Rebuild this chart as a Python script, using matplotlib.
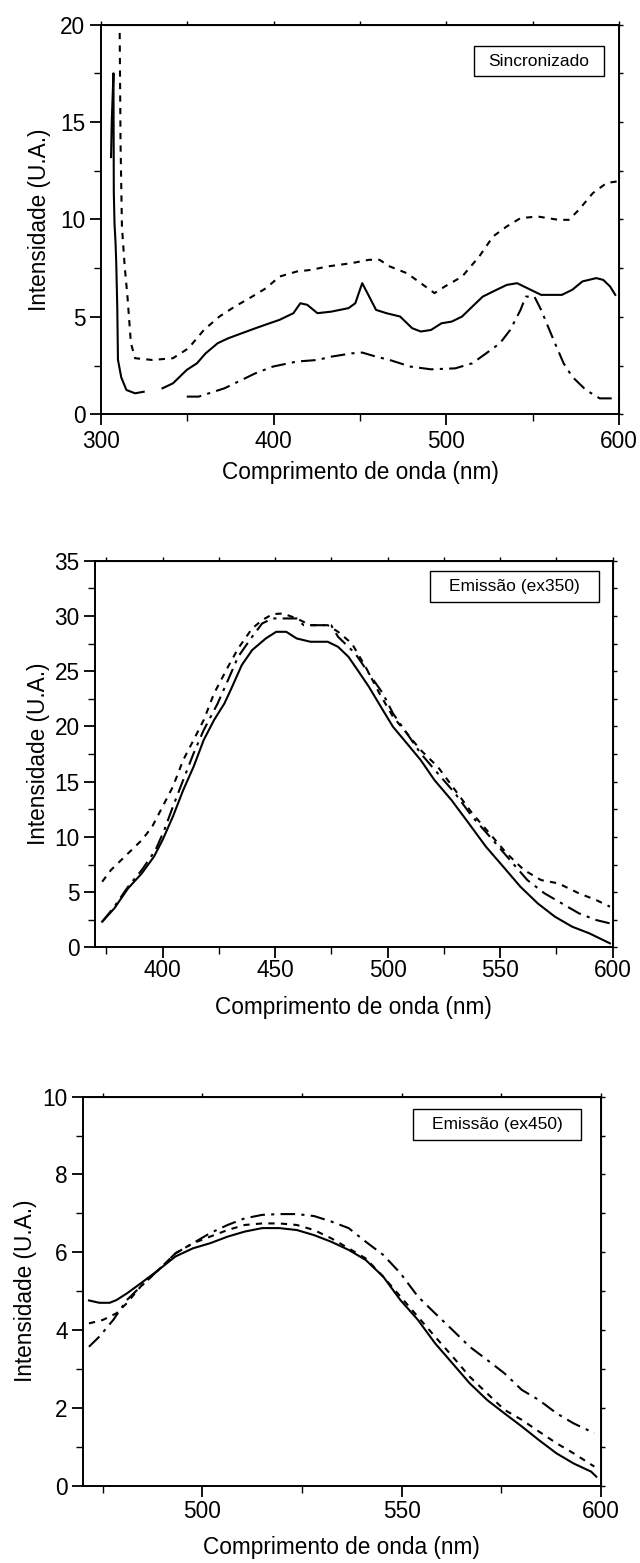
import numpy as np
import matplotlib
matplotlib.use("Agg")
import matplotlib.pyplot as plt
from matplotlib.ticker import MultipleLocator, NullFormatter
from matplotlib.patches import Rectangle

plt.rcParams['font.family'] = ['Liberation Sans', 'DejaVu Sans']

# --- Sincronizado (top panel) ---
sync_solid_a_x = [306.0, 306.4, 307.4, 307.6, 308.0, 308.6, 309.0, 309.6, 310.0, 311.9, 314.9, 319.9, 324.9]
sync_solid_a_y = [13.2, 15.0, 17.5, 11.4, 9.8, 8.8, 7.8, 5.5, 2.8, 1.9, 1.25, 1.08, 1.16]
sync_solid_b_x = [335.8, 341.8, 349.8, 355.7, 360.7, 367.7, 373.7, 381.6, 389.6, 397.6, 403.5, 411.5,
                  415.5, 419.5, 425.4, 433.4, 443.4, 447.3, 451.3, 454.3, 459.3, 465.3, 473.2, 480.2,
                  485.2, 491.1, 497.1, 503.1, 509.1, 515.0, 521.0, 529.0, 534.9, 540.9, 546.9, 554.8,
                  566.8, 572.8, 578.7, 586.7, 590.7, 594.7, 597.7]
sync_solid_b_y = [1.34, 1.59, 2.28, 2.62, 3.13, 3.65, 3.90, 4.16, 4.42, 4.67, 4.85, 5.19,
                  5.70, 5.62, 5.19, 5.27, 5.45, 5.70, 6.73, 6.22, 5.36, 5.19, 5.02, 4.42,
                  4.25, 4.33, 4.67, 4.76, 5.02, 5.53, 6.04, 6.39, 6.64, 6.73, 6.47, 6.13,
                  6.13, 6.39, 6.82, 6.99, 6.90, 6.56, 6.13]
sync_dash_x = [311.0, 311.5, 312.3, 313.9, 315.5, 317.5, 319.9, 329.9, 341.8, 350.8, 359.7, 368.7,
               377.6, 387.6, 395.6, 403.5, 413.5, 421.5, 431.4, 445.3, 455.3, 461.3, 467.2, 477.2,
               485.2, 493.1, 499.1, 509.1, 519.0, 527.0, 534.9, 542.9, 552.9, 564.8, 570.8, 576.7,
               584.7, 592.7, 598.7]
sync_dash_y = [19.57, 13.92, 9.64, 7.59, 6.04, 3.65, 2.88, 2.79, 2.88, 3.39, 4.33, 5.02,
               5.53, 6.04, 6.47, 7.07, 7.33, 7.41, 7.59, 7.76, 7.93, 7.93, 7.59, 7.24,
               6.73, 6.22, 6.56, 7.07, 8.10, 9.13, 9.64, 10.07, 10.15, 9.98, 9.98, 10.50,
               11.35, 11.87, 11.95]
sync_dd_x = [349.8, 356.7, 371.7, 379.6, 389.6, 399.6, 413.5, 425.4, 433.4, 445.3, 451.3, 459.3,
             467.2, 479.2, 491.1, 505.1, 515.0, 523.0, 531.0, 536.9, 542.9, 545.9, 550.9, 554.8,
             558.8, 562.8, 567.8, 572.8, 580.7, 588.7, 599.6]
sync_dd_y = [0.91, 0.91, 1.34, 1.68, 2.11, 2.45, 2.71, 2.79, 2.96, 3.13, 3.17, 2.96,
             2.79, 2.45, 2.31, 2.36, 2.62, 3.13, 3.65, 4.33, 5.36, 6.04, 6.04, 5.36,
             4.50, 3.65, 2.62, 1.93, 1.25, 0.82, 0.82]

# --- Emissao ex350 (middle panel) ---
ex350_solid_x = [373.2, 378.6, 384.7, 390.8, 396.2, 400.0, 404.6, 409.2, 413.8, 418.3, 422.9, 427.5,
                 430.6, 435.2, 439.8, 445.9, 450.5, 455.0, 459.6, 465.7, 473.4, 478.0, 482.6, 487.2,
                 491.7, 497.9, 502.4, 508.6, 514.7, 520.8, 528.4, 536.1, 543.7, 551.4, 559.0, 566.7,
                 574.3, 582.0, 589.6, 598.8]
ex350_solid_y = [2.32, 3.53, 5.34, 6.70, 8.21, 9.71, 11.83, 14.24, 16.35, 18.77, 20.58, 22.08,
                 23.44, 25.55, 26.91, 27.97, 28.57, 28.57, 27.97, 27.67, 27.67, 27.21, 26.31, 24.95,
                 23.59, 21.48, 19.97, 18.46, 16.96, 15.15, 13.33, 11.22, 9.11, 7.30, 5.49, 3.98,
                 2.78, 1.87, 1.27, 0.36]
ex350_dash_x = [373.2, 377.1, 383.2, 390.8, 395.4, 400.0, 404.6, 409.2, 413.8, 418.3, 422.9, 429.1,
                433.6, 439.8, 444.3, 448.9, 453.5, 459.6, 465.7, 473.4, 478.0, 484.1, 490.2, 496.4,
                502.4, 508.6, 514.7, 522.3, 530.0, 537.6, 545.3, 552.9, 560.6, 568.2, 575.9, 585.0,
                592.7, 598.8]
ex350_dash_y = [5.94, 7.00, 8.21, 9.71, 10.92, 12.73, 14.54, 16.96, 18.77, 20.58, 22.99, 25.40,
                27.06, 28.87, 29.63, 30.17, 30.23, 29.78, 29.17, 29.17, 28.57, 27.52, 25.40, 22.99,
                20.88, 19.37, 17.86, 16.35, 14.24, 12.13, 10.32, 8.51, 7.00, 6.09, 5.79, 4.89,
                4.28, 3.68]
ex350_dd_x = [373.2, 378.6, 384.7, 390.8, 396.9, 400.8, 404.6, 409.2, 413.8, 418.3, 424.5, 429.1,
              433.6, 439.8, 444.3, 448.9, 455.0, 459.6, 462.7, 468.8, 474.9, 478.0, 485.6, 491.7,
              497.9, 502.4, 508.6, 514.7, 522.3, 530.0, 537.6, 546.8, 554.4, 562.1, 569.7, 577.4,
              585.0, 592.7, 598.8]
ex350_dd_y = [2.32, 3.68, 5.49, 7.00, 8.81, 10.62, 12.73, 15.15, 17.56, 19.67, 22.08, 24.20,
              26.31, 28.12, 29.33, 29.78, 29.78, 29.78, 29.17, 29.17, 29.17, 28.12, 26.61, 24.80,
              22.99, 21.18, 19.37, 17.56, 15.75, 13.94, 11.83, 9.71, 7.90, 6.09, 4.89, 3.98,
              3.08, 2.47, 2.17]

# --- Emissao ex450 (bottom panel) ---
ex450_x = [471.5, 474.1, 476.7, 478.4, 481.0, 484.5, 488.9, 493.2, 497.6, 501.9, 506.3, 510.6,
           515.0, 519.3, 523.7, 528.0, 532.3, 536.7, 541.0, 545.4, 549.7, 554.1, 558.4, 562.8,
           567.1, 571.5, 575.8, 580.2, 584.5, 588.9, 593.2, 597.6, 598.9]
ex450_solid_y = [4.76, 4.70, 4.70, 4.77, 4.94, 5.20, 5.54, 5.89, 6.10, 6.23, 6.40, 6.53,
                 6.62, 6.62, 6.57, 6.44, 6.27, 6.06, 5.80, 5.37, 4.77, 4.26, 3.66, 3.14,
                 2.63, 2.20, 1.86, 1.52, 1.17, 0.83, 0.57, 0.36, 0.23]
ex450_dash_x = [471.5, 475.0, 478.4, 481.0, 484.5, 488.9, 493.2, 497.6, 501.9, 506.3, 510.6, 515.0,
                519.3, 523.7, 528.0, 532.3, 536.7, 541.0, 545.4, 549.7, 554.1, 558.4, 562.8, 567.1,
                571.5, 575.8, 580.2, 584.5, 588.9, 593.2, 598.4]
ex450_dash_y = [4.17, 4.26, 4.43, 4.69, 5.12, 5.54, 5.97, 6.23, 6.40, 6.57, 6.70, 6.74,
                6.74, 6.70, 6.57, 6.36, 6.10, 5.84, 5.37, 4.86, 4.34, 3.83, 3.32, 2.80,
                2.37, 1.95, 1.69, 1.39, 1.09, 0.83, 0.49]
ex450_dd_x = [471.5, 474.1, 477.6, 481.0, 484.5, 488.9, 493.2, 497.6, 501.9, 506.3, 510.6, 515.0,
              519.3, 523.7, 528.0, 532.3, 536.7, 541.0, 545.4, 549.7, 554.1, 558.4, 562.8, 567.1,
              571.5, 575.8, 580.2, 584.5, 588.9, 593.2, 598.4]
ex450_dd_y = [3.57, 3.83, 4.26, 4.77, 5.12, 5.54, 5.97, 6.23, 6.49, 6.70, 6.87, 6.96,
              6.98, 6.98, 6.93, 6.79, 6.62, 6.27, 5.93, 5.46, 4.86, 4.43, 4.00, 3.57,
              3.23, 2.89, 2.46, 2.20, 1.86, 1.60, 1.35]

FS = 16.3
LW = 1.5
DASH = (0, (3, 3))
DASHDOT = (0, (7, 3, 1.5, 3))

fig = plt.figure(figsize=(6.4, 15.63), dpi=100)


def setup(ax, xlim, ylim, xmaj, xmin, ymaj, ymin, label, box, ylab_x, xpad, xlabpad):
    ax.set_xlim(*xlim)
    ax.set_ylim(*ylim)
    ax.xaxis.set_major_locator(MultipleLocator(xmaj))
    ax.xaxis.set_minor_locator(MultipleLocator(xmin))
    ax.yaxis.set_major_locator(MultipleLocator(ymaj))
    ax.yaxis.set_minor_locator(MultipleLocator(ymin))
    ax.tick_params(which='major', direction='out', length=8, width=1.3, labelsize=FS, pad=3)
    ax.tick_params(axis='x', which='major', pad=xpad)
    ax.tick_params(which='minor', direction='out', length=5, width=1.0)
    for s in ax.spines.values():
        s.set_linewidth(1.4)
    # short outward ticks on top and right
    top = ax.secondary_xaxis('top')
    top.xaxis.set_major_locator(MultipleLocator(xmin))
    top.xaxis.set_major_formatter(NullFormatter())
    top.tick_params(direction='out', length=3, width=1.0)
    right = ax.secondary_yaxis('right')
    right.yaxis.set_major_locator(MultipleLocator(ymin))
    right.yaxis.set_major_formatter(NullFormatter())
    right.tick_params(direction='out', length=3, width=1.0)
    ax.set_xlabel('Comprimento de onda (nm)', fontsize=FS, labelpad=xlabpad)
    ax.set_ylabel('Intensidade (U.A.)', fontsize=FS)
    ax.yaxis.set_label_coords(ylab_x, 0.5)
    x0, y0, x1, y1 = box
    ax.add_patch(Rectangle((x0, y0), x1 - x0, y1 - y0, transform=ax.transAxes,
                           fc='white', ec='black', lw=1.0, zorder=5))
    ax.text((x0 + x1) / 2, (y0 + y1) / 2, label, transform=ax.transAxes,
            ha='center', va='center', fontsize=12.5, zorder=6)


# top panel
ax1 = fig.add_axes([0.1573, 0.7349, 0.8103, 0.2494])
ax1.plot(sync_solid_a_x, sync_solid_a_y, color='black', lw=LW)
ax1.plot(sync_solid_b_x, sync_solid_b_y, color='black', lw=LW)
ax1.plot(sync_dash_x, sync_dash_y, color='black', lw=LW, linestyle=DASH)
ax1.plot(sync_dd_x, sync_dd_y, color='black', lw=LW, linestyle=DASHDOT)
setup(ax1, (300, 600), (0, 20), 100, 50, 5, 2.5, 'Sincronizado',
      (0.7198, 0.8671, 0.9705, 0.9456), -0.096, 3, 6)

# middle panel
ax2 = fig.add_axes([0.1484, 0.3939, 0.8089, 0.2473])
ax2.plot(ex350_solid_x, ex350_solid_y, color='black', lw=LW)
ax2.plot(ex350_dash_x, ex350_dash_y, color='black', lw=LW, linestyle=DASH)
ax2.plot(ex350_dd_x, ex350_dd_y, color='black', lw=LW, linestyle=DASHDOT)
setup(ax2, (370, 600), (0, 35), 50, 25, 5, 2.5, 'Emissão (ex350)',
      (0.6471, 0.8924, 0.9736, 0.9734), -0.086, 0.5, 10)

# bottom panel
ax3 = fig.add_axes([0.1297, 0.0495, 0.8089, 0.2489])
ax3.plot(ex450_x, ex450_solid_y, color='black', lw=LW)
ax3.plot(ex450_dash_x, ex450_dash_y, color='black', lw=LW, linestyle=DASH)
ax3.plot(ex450_dd_x, ex450_dd_y, color='black', lw=LW, linestyle=DASHDOT)
setup(ax3, (470, 600), (0, 10), 50, 25, 2, 1, 'Emissão (ex450)',
      (0.6375, 0.8887, 0.9620, 0.9684), -0.089, 2, 10)

fig.savefig('out.png', dpi=100)
